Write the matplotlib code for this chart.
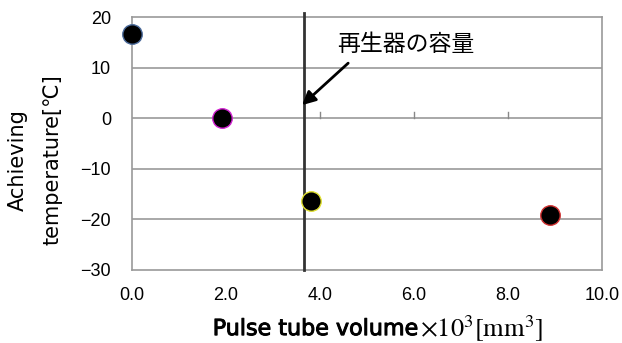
import matplotlib
matplotlib.use("Agg")
import matplotlib.pyplot as plt
import matplotlib.patheffects as pe

plt.rcParams['font.family'] = ['Liberation Sans', 'Noto Sans CJK JP', 'DejaVu Sans']
plt.rcParams['mathtext.fontset'] = 'stix'

# data
volume = [0.0, 1.92, 3.82, 8.9]
temp = [16.6, 0.0, -16.4, -19.1]
edge_colors = ['#4a6a9a', '#d020d0', '#e0e030', '#d03030']
regen_volume = 3.66
yticks = [20, 10, 0, -10, -20, -30]
xticks = [0, 2, 4, 6, 8, 10]

fig = plt.figure(figsize=(6.22, 3.43), dpi=100)
ax = fig.add_axes([0.212, 0.213, 0.756, 0.737])

for v in [10, 0, -10, -20]:
    ax.axhline(v, color='#999999', lw=1.2, zorder=1)

for x, y, ec in zip(volume, temp, edge_colors):
    ax.plot(x, y, 'o', ms=14, mfc='black', mec=ec, mew=1.0, zorder=4, clip_on=False)

ax.plot([regen_volume, regen_volume], [-30, 20.8], color='#333333', lw=2, zorder=3, clip_on=False)

ax.annotate('', xy=(3.62, 2.6), xytext=(4.6, 10.9),
            arrowprops=dict(arrowstyle='-|>', color='black', lw=2, mutation_scale=20, shrinkA=0, shrinkB=0))
ax.text(4.36, 14.5, '再生器の容量', fontsize=16.5, ha='left', va='center',
        family=['Noto Sans CJK JP'])

# x-axis ticks sit on y=0 like Excel
for t in xticks[1:-1]:
    ax.plot([t, t], [0, 1.2], color='#888888', lw=1, zorder=1)

ax.set_xlim(0, 10)
ax.set_ylim(-30, 20)
ax.set_xticks(xticks)
ax.set_xticklabels([f'{t:.1f}' for t in xticks])
ax.set_yticks(yticks)
ax.set_yticklabels([f'\u2212{abs(t)}' if t < 0 else str(t) for t in yticks])
ax.tick_params(axis='y', length=0, labelsize=13, pad=15)
ax.tick_params(axis='x', length=0, labelsize=13, pad=12)
for s in ax.spines.values():
    s.set_color('#999999')
    s.set_linewidth(1.2)

bold = [pe.withStroke(linewidth=0.7, foreground='black')]
fig.text(0.342, 0.023, 'Pulse tube volume', fontsize=16, family=['DejaVu Sans'],
         ha='left', va='baseline', path_effects=bold)
fig.text(0.675, 0.017, r'$\times\mathrm{10^3[mm^3]}$', fontsize=19, ha='left', va='baseline')

fig.text(0.029, 0.534, 'Achieving', rotation=90, ha='center', va='center', fontsize=15,
         family=['DejaVu Sans'])
fig.text(0.084, 0.534, 'temperature[℃]', rotation=90, ha='center', va='center', fontsize=15,
         family=['DejaVu Sans', 'Noto Sans CJK JP'])

fig.savefig('out.png', dpi=100)
